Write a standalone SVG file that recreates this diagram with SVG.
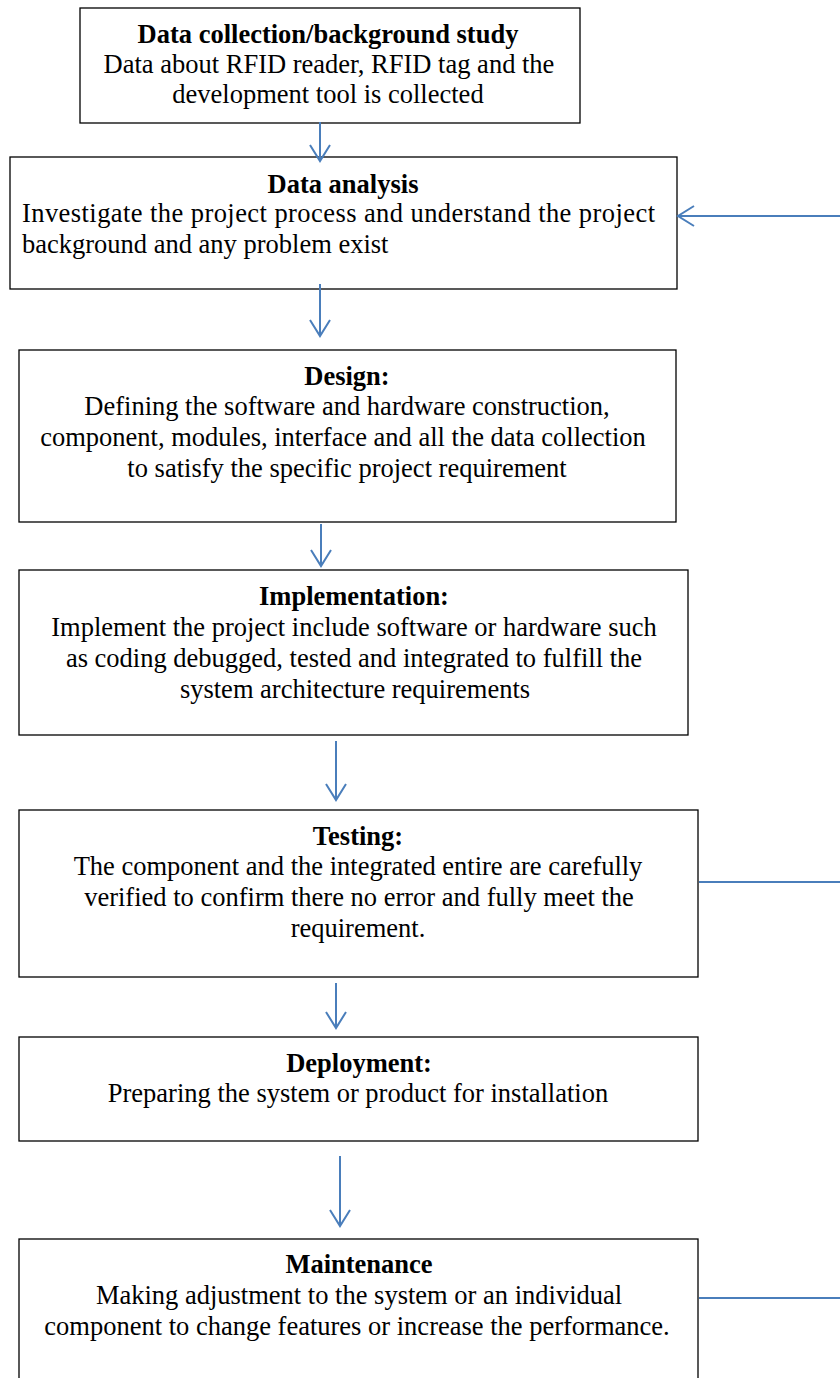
<svg xmlns="http://www.w3.org/2000/svg" width="840" height="1378" viewBox="0 0 840 1378">
<style>
.box{fill:#fff;stroke:#000;stroke-width:1.3}
.t{font-family:"Liberation Serif","Times New Roman",serif;font-size:26.5px;fill:#000;text-anchor:middle}
.b{font-weight:bold}
.l{text-anchor:start}
.c{fill:none;stroke:#4a7ebb;stroke-width:2}
</style>
<defs>
<marker id="ah" markerUnits="userSpaceOnUse" markerWidth="30" markerHeight="30" refX="18" refY="11" orient="auto" overflow="visible">
<path d="M2,1 L18,11 L2,21" fill="none" stroke="#4a7ebb" stroke-width="2"/>
</marker>
</defs>
<rect width="840" height="1378" fill="#fff"/>
<g id="n1">
<rect class="box" x="80" y="8" width="500" height="115"/>
<text class="t b" x="328" y="43">Data collection/background study</text>
<text class="t" x="329" y="73">Data about RFID reader, RFID tag and the</text>
<text class="t" x="328" y="103">development tool is collected</text>
</g>
<g id="n2">
<rect class="box" x="10" y="157" width="667" height="132"/>
<text class="t b" x="343" y="193">Data analysis</text>
<text class="t l" x="22" y="222" textLength="633" lengthAdjust="spacing">Investigate the project process and understand the project</text>
<text class="t l" x="22" y="253">background and any problem exist</text>
</g>
<g id="n3">
<rect class="box" x="19" y="350" width="657" height="172"/>
<text class="t b" x="347" y="385">Design:</text>
<text class="t" x="347" y="415">Defining the software and hardware construction,</text>
<text class="t" x="343" y="446">component, modules, interface and all the data collection</text>
<text class="t" x="347" y="477">to satisfy the specific project requirement</text>
</g>
<g id="n4">
<rect class="box" x="19" y="570" width="669" height="165"/>
<text class="t b" x="354" y="605">Implementation:</text>
<text class="t" x="354" y="636">Implement the project include software or hardware such</text>
<text class="t" x="354" y="667">as coding debugged, tested and integrated to fulfill the</text>
<text class="t" x="355" y="698">system architecture requirements</text>
</g>
<g id="n5">
<rect class="box" x="19" y="810" width="679" height="167"/>
<text class="t b" x="358" y="845">Testing:</text>
<text class="t" x="358" y="875">The component and the integrated entire are carefully</text>
<text class="t" x="359" y="906">verified to confirm there no error and fully meet the</text>
<text class="t" x="358" y="937">requirement.</text>
</g>
<g id="n6">
<rect class="box" x="19" y="1037" width="679" height="104"/>
<text class="t b" x="359" y="1072">Deployment:</text>
<text class="t" x="358" y="1102">Preparing the system or product for installation</text>
</g>
<g id="n7">
<rect class="box" x="19" y="1239" width="679" height="160"/>
<text class="t b" x="359" y="1273">Maintenance</text>
<text class="t" x="359" y="1304">Making adjustment to the system or an individual</text>
<text class="t" x="357" y="1335">component to change features or increase the performance.</text>
</g>
<g id="connectors">
<line class="c" x1="320" y1="122" x2="320" y2="161" marker-end="url(#ah)"/>
<line class="c" x1="320" y1="284" x2="320" y2="336" marker-end="url(#ah)"/>
<line class="c" x1="321" y1="524" x2="321" y2="566" marker-end="url(#ah)"/>
<line class="c" x1="336" y1="741" x2="336" y2="800" marker-end="url(#ah)"/>
<line class="c" x1="336" y1="983" x2="336" y2="1028" marker-end="url(#ah)"/>
<line class="c" x1="340" y1="1156" x2="340" y2="1226" marker-end="url(#ah)"/>
<line class="c" x1="840" y1="216" x2="678" y2="216" marker-end="url(#ah)"/>
<line class="c" x1="699" y1="882" x2="840" y2="882"/>
<line class="c" x1="699" y1="1298" x2="840" y2="1298"/>
</g>
</svg>
